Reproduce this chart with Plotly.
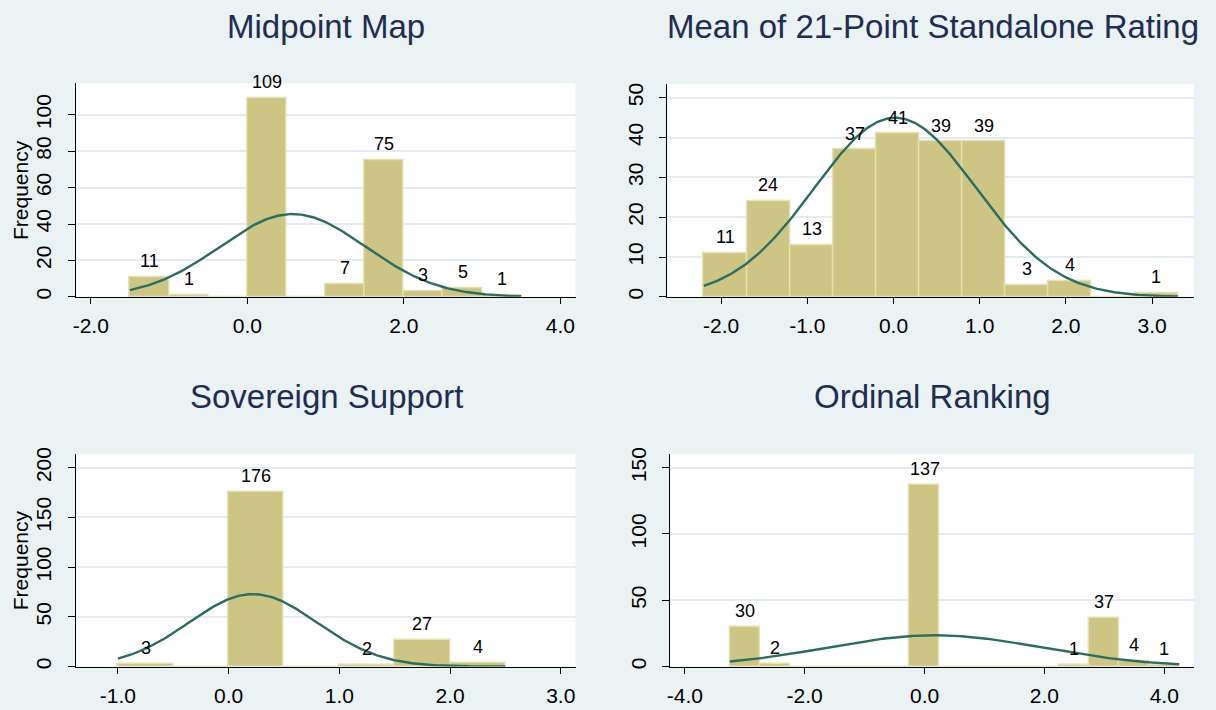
import numpy as np
import plotly.graph_objects as go

# ---- histogram data: bin start, bin width, counts per bin ----
midpoint_start, midpoint_width = -1.5, 0.5
midpoint_counts = [11, 1, 0, 109, 0, 7, 75, 3, 5, 1]

rating_start, rating_width = -2.2, 0.5
rating_counts = [11, 24, 13, 37, 41, 39, 39, 3, 4, 0, 1]

sovereign_start, sovereign_width = -1.0, 0.5
sovereign_counts = [3, 0, 176, 0, 2, 27, 4]

ordinal_start, ordinal_width = -3.25, 0.5
ordinal_counts = [30, 2, 0, 0, 0, 0, 137, 0, 0, 0, 0, 1, 37, 4, 1]

# mean / sd of the fitted normal overlay for each variable
midpoint_norm = (0.58, 0.93)
rating_norm = (0.02, 0.94)
sovereign_norm = (0.22, 0.58)
ordinal_norm = (0.17, 1.79)

# axis ticks and their labels
midpoint_xticks = [-2, 0, 2, 4]
midpoint_xlabels = ["-2.0", "0.0", "2.0", "4.0"]
rating_xticks = [-2, -1, 0, 1, 2, 3]
rating_xlabels = ["-2.0", "-1.0", "0.0", "1.0", "2.0", "3.0"]
sovereign_xticks = [-1, 0, 1, 2, 3]
sovereign_xlabels = ["-1.0", "0.0", "1.0", "2.0", "3.0"]
ordinal_xticks = [-4, -2, 0, 2, 4]
ordinal_xlabels = ["-4.0", "-2.0", "0.0", "2.0", "4.0"]
midpoint_yticks = [0, 20, 40, 60, 80, 100]
rating_yticks = [0, 10, 20, 30, 40, 50]
sovereign_yticks = [0, 50, 100, 150, 200]
ordinal_yticks = [0, 50, 100, 150]

titles = ["Midpoint Map", "Mean of 21-Point Standalone Rating",
          "Sovereign Support", "Ordinal Ranking"]

W, H = 1216, 710
BG = "#eaf2f3"
BAR = "#ccc584"
BAR_EDGE = "#e4e0b0"
CURVE = "#2b6c63"
TITLE_C = "#1f2d52"
FONT = "Liberation Sans, Arial, sans-serif"

panels = [
    dict(start=midpoint_start, width=midpoint_width, counts=midpoint_counts,
         norm=midpoint_norm, xt=midpoint_xticks, xl=midpoint_xlabels,
         yt=midpoint_yticks, xr=[-2.195, 4.195], yr=[0, 117.3],
         px=(72.7, 574), py=(77.3, 294), title_xy=(324, 20), freq=True),
    dict(start=rating_start, width=rating_width, counts=rating_counts,
         norm=rating_norm, xt=rating_xticks, xl=rating_xlabels,
         yt=rating_yticks, xr=[-2.623, 3.486], yr=[0, 53.4],
         px=(666, 1194), py=(78.3, 294), title_xy=(932, 20), freq=False),
    dict(start=sovereign_start, width=sovereign_width, counts=sovereign_counts,
         norm=sovereign_norm, xt=sovereign_xticks, xl=sovereign_xlabels,
         yt=sovereign_yticks, xr=[-1.383, 3.134], yr=[0, 213.9],
         px=(72.7, 574), py=(453.3, 669), title_xy=(324, 395), freq=True),
    dict(start=ordinal_start, width=ordinal_width, counts=ordinal_counts,
         norm=ordinal_norm, xt=ordinal_xticks, xl=ordinal_xlabels,
         yt=ordinal_yticks, xr=[-4.245, 4.497], yr=[0, 160.4],
         px=(668.8, 1194), py=(453.3, 669), title_xy=(932, 395), freq=False),
]

fig = go.Figure()
annotations = []
layout = {}

for i, p in enumerate(panels, start=1):
    sfx = "" if i == 1 else str(i)
    xa, ya = "x" + sfx, "y" + sfx
    n_bins = len(p["counts"])
    centers = [p["start"] + p["width"] * (k + 0.5) for k in range(n_bins)]

    fig.add_trace(go.Bar(
        x=centers, y=p["counts"], width=p["width"],
        marker=dict(color=BAR, line=dict(color=BAR_EDGE, width=1.5)),
        xaxis=xa, yaxis=ya, showlegend=False, hoverinfo="x+y",
    ))

    # normal density scaled to frequency: N * binwidth * pdf
    total = sum(p["counts"])
    mu, sd = p["norm"]
    lo = p["start"]
    hi = p["start"] + p["width"] * n_bins
    xs = np.linspace(lo, hi, 300)
    ys = total * p["width"] * np.exp(-0.5 * ((xs - mu) / sd) ** 2) / (sd * np.sqrt(2 * np.pi))
    fig.add_trace(go.Scatter(
        x=xs, y=ys, mode="lines", line=dict(color=CURVE, width=2.4),
        xaxis=xa, yaxis=ya, showlegend=False, hoverinfo="skip",
    ))

    # count labels above non-empty bars
    for cx, c in zip(centers, p["counts"]):
        if c > 0:
            annotations.append(dict(
                x=cx, y=c, xref=xa, yref=ya, text=str(c), showarrow=False,
                yanchor="middle", yshift=16,
                font=dict(size=18, color="black", family=FONT)))

    x0, x1 = p["px"]
    y0, y1 = p["py"]
    layout["xaxis" + sfx] = dict(
        domain=[x0 / W, x1 / W], range=p["xr"], anchor=ya,
        tickvals=p["xt"], ticktext=p["xl"], ticks="outside", ticklen=6,
        tickcolor="black", showline=True, linecolor="black", linewidth=1,
        showgrid=False, zeroline=False, ticklabelstandoff=4,
        tickfont=dict(size=21, color="black", family=FONT), fixedrange=True)
    layout["yaxis" + sfx] = dict(
        domain=[1 - y1 / H, 1 - y0 / H], range=p["yr"], anchor=xa,
        tickvals=p["yt"], ticks="outside", ticklen=7, tickangle=-90,
        tickcolor="black", showline=True, linecolor="black", linewidth=1,
        showgrid=True, gridcolor="#e3edf0", gridwidth=2, zeroline=False,
        ticklabelstandoff=8,
        tickfont=dict(size=21, color="black", family=FONT), fixedrange=True)

    tx, ty = p["title_xy"]
    annotations.append(dict(
        x=tx / W, y=1 - ty / H, xref="paper", yref="paper", text=titles[i - 1],
        showarrow=False, xanchor="center", yanchor="middle",
        font=dict(size=33, color=TITLE_C, family=FONT)))
    if p["freq"]:
        annotations.append(dict(
            x=17 / W, y=1 - ((y0 + y1) / 2) / H, xref="paper", yref="paper",
            text="Frequency", showarrow=False, textangle=-90,
            xanchor="center", yanchor="middle",
            font=dict(size=21, color="black", family=FONT)))

fig.update_layout(
    width=W, height=H, margin=dict(l=0, r=0, t=0, b=0),
    paper_bgcolor=BG, plot_bgcolor="white", bargap=0,
    annotations=annotations, **layout)

fig.write_html("out.html")
